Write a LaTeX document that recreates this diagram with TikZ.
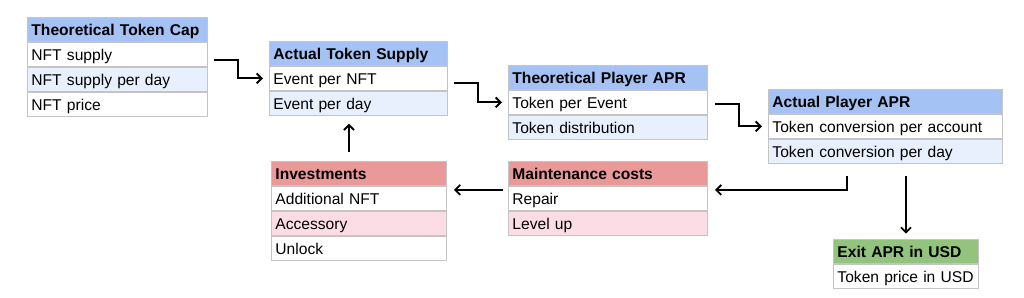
\documentclass[tikz,border=0pt]{standalone}
\usepackage{fontspec}
\setmainfont{Liberation Sans}
\usetikzlibrary{arrows.meta,calc}
\definecolor{hblue}{HTML}{A4C2F4}
\definecolor{lblue}{HTML}{E8F0FE}
\definecolor{hred}{HTML}{EA9999}
\definecolor{lpink}{HTML}{FCDDE6}
\definecolor{hgreen}{HTML}{93C47D}
\definecolor{bordc}{HTML}{C4C4C4}
\begin{document}
\begin{tikzpicture}[x=1pt,y=1pt,
  cell/.style={draw=bordc, line width=0.9pt, anchor=north west, minimum height=24pt,
    inner xsep=4pt, inner ysep=0pt, align=left,
    font=\fontsize{15.6}{18}\selectfont, text height=14.5pt, text depth=2pt},
  head/.style={cell, font=\fontsize{15.6}{18}\selectfont\bfseries},
  arr/.style={line width=1.9pt, -{Straight Barb[length=5pt,width=10pt,line width=1.9pt]}}
]
\fill[white] (0,0) rectangle (1024,-297);
\useasboundingbox (0,0) rectangle (1024,-297);

% Theoretical Token Cap
\node[head, text width=172pt, fill=hblue] (t1h) at (27,-17) {Theoretical Token Cap};
\node[cell, text width=172pt, fill=white] (t1r1) at (t1h.south west) {NFT supply};
\node[cell, text width=172pt, fill=lblue] (t1r2) at (t1r1.south west) {NFT supply per day};
\node[cell, text width=172pt, fill=white] (t1r3) at (t1r2.south west) {NFT price};

% Actual Token Supply
\node[head, text width=170pt, fill=hblue] (t2h) at (269,-41) {Actual Token Supply};
\node[cell, text width=170pt, fill=white] (t2r1) at (t2h.south west) {Event per NFT};
\node[cell, text width=170pt, fill=lblue] (t2r2) at (t2r1.south west) {Event per day};

% Theoretical Player APR
\node[head, text width=191pt, fill=hblue] (t3h) at (508,-65) {Theoretical Player APR};
\node[cell, text width=191pt, fill=white] (t3r1) at (t3h.south west) {Token per Event};
\node[cell, text width=191pt, fill=lblue] (t3r2) at (t3r1.south west) {Token distribution};

% Actual Player APR
\node[head, text width=226pt, fill=hblue] (t4h) at (768,-89) {Actual Player APR};
\node[cell, text width=226pt, fill=white] (t4r1) at (t4h.south west) {Token conversion per account};
\node[cell, text width=226pt, fill=lblue] (t4r2) at (t4r1.south west) {Token conversion per day};

% Exit APR in USD
\node[head, text width=137pt, fill=hgreen] (eh) at (833,-239) {Exit APR in USD};
\node[cell, text width=137pt, fill=white] (er1) at (eh.south west) {Token price in USD};

% Maintenance costs
\node[head, text width=191pt, fill=hred] (mh) at (508,-161) {Maintenance costs};
\node[cell, text width=191pt, fill=white] (mr1) at (mh.south west) {Repair};
\node[cell, text width=191pt, fill=lpink] (mr2) at (mr1.south west) {Level up};

% Investments
\node[head, text width=167pt, fill=hred] (ih) at (271,-161) {Investments};
\node[cell, text width=167pt, fill=white] (ir1) at (ih.south west) {Additional NFT};
\node[cell, text width=167pt, fill=lpink] (ir2) at (ir1.south west) {Accessory};
\node[cell, text width=167pt, fill=white] (ir3) at (ir2.south west) {Unlock};

% connectors
\draw[arr] ($(t1r1.east)+(6,-6)$) -- ++(24,0) |- ($(t2r1.west)+(-6,0)$);
\draw[arr] ($(t2r1.east)+(6,-5)$) -- ++(24,0) |- ($(t3r1.west)+(-6,0)$);
\draw[arr] ($(t3r1.east)+(7,-2)$) -- ++(24,0) |- ($(t4r1.west)+(-6,0)$);
\draw[arr] ($(t4r2.south west)+(79,-12)$) |- ($(mh.south east)+(7,-4)$);
\draw[arr] ($(t4r2.south west)+(138,-12)$) -- ($(t4r2.south west)+(138,-70)$);
\draw[arr] ($(mh.south west)+(-5,-4)$) -- ($(ih.south east)+(7,-4)$);
\draw[arr] ($(ih.north west)+(78,9)$) -- ($(t2r2.south west)+(80,-8)$);
\end{tikzpicture}
\end{document}
